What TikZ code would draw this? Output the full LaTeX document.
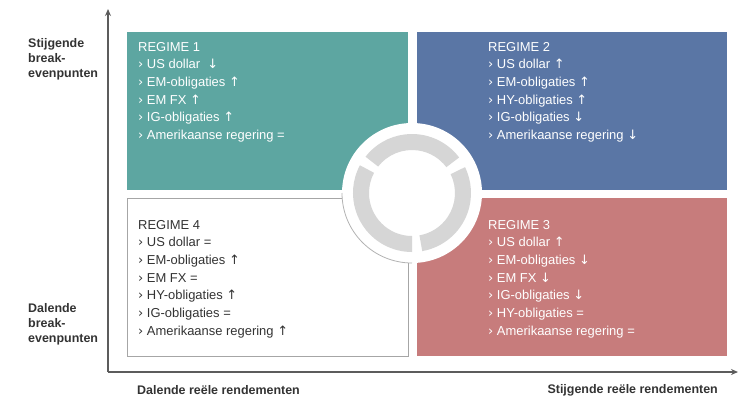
\documentclass[tikz,border=0pt]{standalone}
\usepackage{fontspec}
\setmainfont{Liberation Sans}
\newfontfamily\sym{DejaVu Sans}
\usetikzlibrary{arrows.meta}
\definecolor{cteal}{HTML}{5DA6A1}
\definecolor{cblue}{HTML}{5A76A5}
\definecolor{cred}{HTML}{C77C7C}
\definecolor{cring}{HTML}{D6D6D6}
\definecolor{ctxt}{HTML}{333333}
\newcommand{\U}{{\sym\char"2191}}
\newcommand{\D}{{\sym\char"2193}}
\newcommand{\itm}[1]{{\sym\char"203A}\ #1}
\begin{document}
\begin{tikzpicture}[x=1bp,y=-1bp,
  reg/.style={anchor=north west,align=left,inner sep=0pt,font=\fontsize{13}{17.7}\selectfont,text=white},
  axl/.style={font=\fontsize{12.5}{15}\selectfont\bfseries,text=ctxt,inner sep=0pt},
  ax/.style={draw=ctxt!80,line width=1.2pt,-{Stealth[length=7pt,width=6pt]}}]
\useasboundingbox (0,0) rectangle (749,416);
\fill[cteal] (127,32) rectangle (408,190);
\fill[cblue] (417,32) rectangle (727,190);
\fill[cred] (417,198) rectangle (727,356);
\draw[gray!70,line width=0.8pt] (127.5,198.5) rectangle (408,356);
\coordinate (c) at (412,193);
\fill[white] (c) circle (70);
\draw[gray!60,line width=0.8pt] ([shift={(180:70)}]c) arc[start angle=180,end angle=90,radius=70];
\foreach \a/\b in {37/142,152/270,280/386}{
  \fill[cring] ([shift={(-\a:59)}]c) arc[start angle=-\a,end angle=-\b,radius=59]
     -- ([shift={(-\b:43)}]c) arc[start angle=-\b,end angle=-\a,radius=43] -- cycle;}
\node[reg] (r1) at (138,42) {REGIME 1\\\itm{US dollar \ \D}\\\itm{EM-obligaties \U}\\\itm{EM FX \U}\\\itm{IG-obligaties \U}\\\itm{Amerikaanse regering =}};
\node[reg] (r2) at (488,42) {REGIME 2\\\itm{US dollar \U}\\\itm{EM-obligaties \U}\\\itm{HY-obligaties \U}\\\itm{IG-obligaties \D}\\\itm{Amerikaanse regering \D}};
\node[reg,text=ctxt] (r4) at (138,220) {REGIME 4\\\itm{US dollar =}\\\itm{EM-obligaties \U}\\\itm{EM FX =}\\\itm{HY-obligaties \U}\\\itm{IG-obligaties =}\\\itm{Amerikaanse regering \U}};
\node[reg] (r3) at (488,220) {REGIME 3\\\itm{US dollar \U}\\\itm{EM-obligaties \D}\\\itm{EM FX \D}\\\itm{IG-obligaties \D}\\\itm{HY-obligaties =}\\\itm{Amerikaanse regering =}};
\coordinate (o) at (108,372);
\coordinate (top) at (108,9);
\coordinate (rt) at (738,372);
\draw[ax] (o) -- (top);
\draw[ax] (o) -- (rt);
\node[axl,anchor=north west,align=left] (l1) at (28,38) {Stijgende\\break-\\evenpunten};
\node[axl,anchor=north west,align=left] (l2) at (28,303) {Dalende\\break-\\evenpunten};
\node[axl,anchor=west] (l3) at (137,390) {Dalende reële rendementen};
\node[axl,anchor=east] (l4) at (718,390) {Stijgende reële rendementen};
\end{tikzpicture}
\end{document}
